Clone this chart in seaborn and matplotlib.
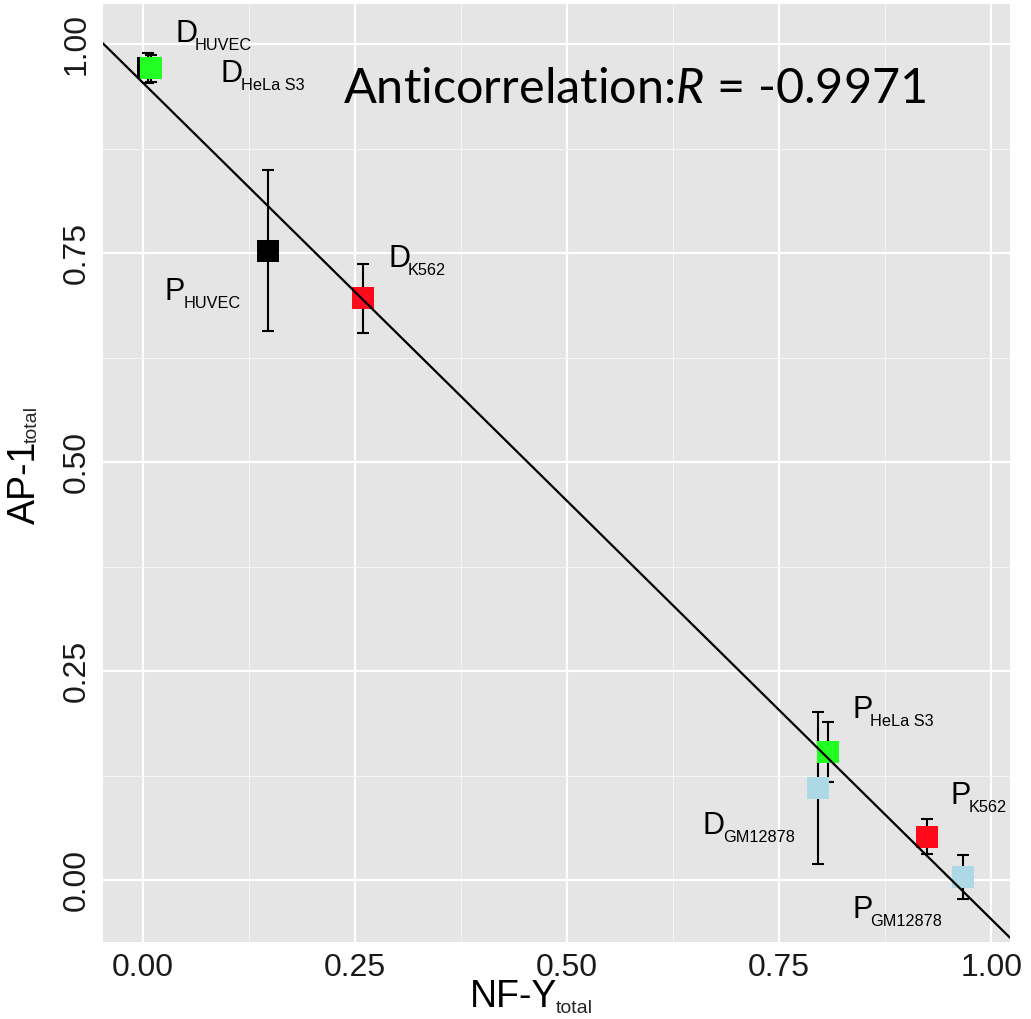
import numpy as np
import pandas as pd
import matplotlib
matplotlib.use("Agg")
import matplotlib.pyplot as plt
import seaborn as sns

# --- Values ---
prefix = ["D", "D", "P", "D", "P", "D", "P", "P"]
cell = ["HUVEC", "HeLa S3", "HUVEC", "K562", "HeLa S3", "GM12878", "K562", "GM12878"]
nfy = [0.006, 0.010, 0.147, 0.260, 0.808, 0.796, 0.924, 0.967]
ap1 = [0.971, 0.971, 0.753, 0.696, 0.153, 0.110, 0.052, 0.004]
ap1_err = [0.018, 0.016, 0.096, 0.041, 0.036, 0.091, 0.021, 0.026]
ticks = [0.00, 0.25, 0.50, 0.75, 1.00]
tick_labels = ["0.00", "0.25", "0.50", "0.75", "1.00"]
r_value = -0.9971

palette = {"HUVEC": "#000000", "HeLa S3": "#22FF22", "K562": "#FF0A1A", "GM12878": "#ADD8E6"}

# label anchor (left, baseline) in data units, one per point
label_pos = [(0.038, 1.002), (0.092, 0.955), (0.026, 0.694), (0.289, 0.733),
             (0.836, 0.194), (0.660, 0.055), (0.952, 0.091), (0.836, -0.045)]

df = pd.DataFrame({"prefix": prefix, "cell": cell, "nfy": nfy, "ap1": ap1, "err": ap1_err})

# --- Style ---
sns.set_theme(style="darkgrid", rc={
    "axes.facecolor": "#E5E5E5",
    "grid.color": "white",
    "axes.edgecolor": "#E5E5E5",
})
plt.rcParams["font.family"] = ["Liberation Sans", "DejaVu Sans"]
plt.rcParams["mathtext.fontset"] = "custom"
plt.rcParams["mathtext.rm"] = "Liberation Sans"
plt.rcParams["mathtext.it"] = "Lato:italic"

fig = plt.figure(figsize=(10.31, 10.19), dpi=100)
ax = fig.add_axes([103 / 1031, 1 - 942 / 1019, 907 / 1031, 938 / 1019])
ax.set_xlim(-0.047, 1.022)
ax.set_ylim(-0.074, 1.048)

# grid
ax.set_xticks(ticks)
ax.set_yticks(ticks)
ax.set_xticks([0.125, 0.375, 0.625, 0.875], minor=True)
ax.set_yticks([0.125, 0.375, 0.625, 0.875], minor=True)
ax.grid(which="major", color="white", linewidth=1.6)
ax.grid(which="minor", color="#F4F4F4", linewidth=0.8)
ax.set_axisbelow(True)

# error bars
for i, row in df.iterrows():
    ax.errorbar(row["nfy"], row["ap1"], yerr=row["err"], fmt="none",
                ecolor="black", elinewidth=1.5, capsize=4, capthick=1.5, zorder=2)

# squares
sns.scatterplot(data=df, x="nfy", y="ap1", hue="cell", palette=palette, marker="s",
                s=250, linewidth=0, legend=False, ax=ax, zorder=3)

# fitted line over the whole panel
sns.regplot(data=df, x="nfy", y="ap1", scatter=False, ci=None, truncate=False,
            line_kws={"color": "black", "linewidth": 1.6, "zorder": 4}, ax=ax)
ax.set_xlim(-0.047, 1.022)
ax.set_ylim(-0.074, 1.048)

# point labels: big letter + small subscript
for (p, c), (lx, ly) in zip(zip(prefix, cell), label_pos):
    main = ax.text(lx, ly, p, fontsize=22, ha="left", va="baseline",
                   color="black", zorder=5)
    ax.annotate(c, xy=(1, 0), xycoords=main, xytext=(-2, -1),
                textcoords="offset pixels", fontsize=11.7, ha="left",
                va="baseline", color="black", zorder=5)

ax.text(0.236, 0.929, "Anticorrelation:$\\mathit{R}$ = " + f"{r_value}",
        fontsize=35, family="Lato", ha="left", va="baseline", color="black", zorder=5)

# ticks
ax.set_xticklabels(tick_labels)
ax.set_yticklabels(tick_labels)
ax.tick_params(axis="both", which="major", length=5, width=1, color="#555555",
               labelsize=23, labelcolor="#1a1a1a", pad=3)
ax.tick_params(axis="both", which="minor", length=0)
ax.tick_params(axis="y", labelrotation=90)
for lab in ax.get_yticklabels():
    lab.set_va("center")

# axis labels with small "total" subscript
ax.set_xlabel("NF-Y", fontsize=27, color="black")
ax.set_ylabel("AP-1", fontsize=27, color="black")
ax.xaxis.set_label_coords(0.453, -0.039)
ax.yaxis.set_label_coords(-0.066, 0.49)
ax.annotate("total", xy=(1, 0), xycoords=ax.xaxis.label, xytext=(-2, 2),
            textcoords="offset pixels", fontsize=14, ha="left", va="baseline")
ax.annotate("total", xy=(1, 1), xycoords=ax.yaxis.label, xytext=(-2, -2),
            textcoords="offset pixels", fontsize=14, ha="right", va="bottom", rotation=90)

for s in ax.spines.values():
    s.set_visible(False)

fig.savefig("out.png", dpi=100, facecolor="white")
